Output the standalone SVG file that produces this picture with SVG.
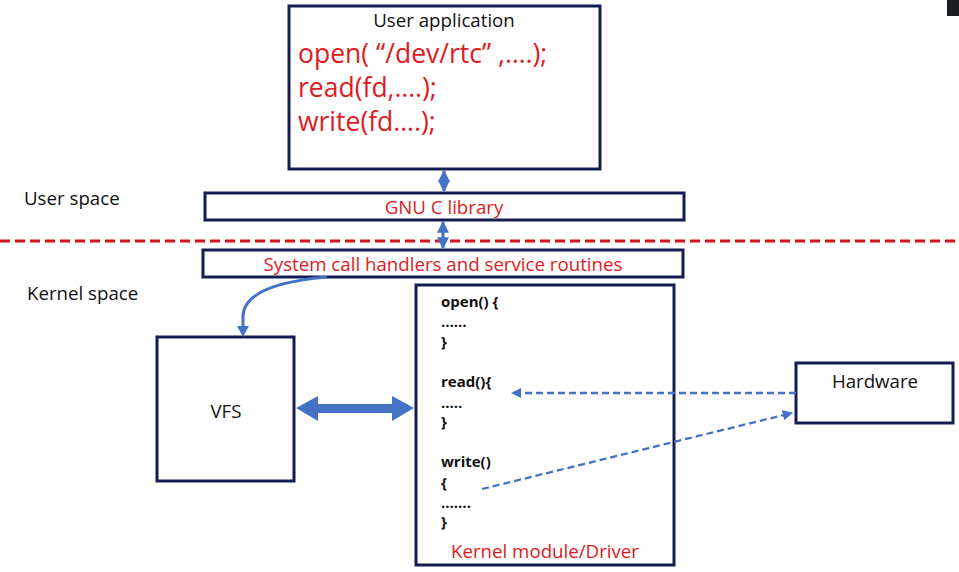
<svg xmlns="http://www.w3.org/2000/svg" width="959" height="572" viewBox="0 0 959 572">
<defs>
<style>
.box{fill:#fff;stroke:#141c52;stroke-width:3}
.t{font-family:"Open Sans","Noto Sans",sans-serif;fill:#111;font-size:18.7px}
.r{font-family:"Open Sans","Noto Sans",sans-serif;fill:#e01a22;font-size:18.7px}
.big{font-size:26.5px}
.c{font-family:"Open Sans","Noto Sans",sans-serif;font-weight:bold;font-size:15px;fill:#111}
.dash{fill:none;stroke:#4472c4;stroke-width:2.3;stroke-dasharray:7 4}
</style>
<marker id="ah" viewBox="0 0 10 10" refX="9" refY="5" markerWidth="4.5" markerHeight="4.5" orient="auto-start-reverse">
<path d="M0,0 L10,5 L0,10 z" fill="#4472c4"/>
</marker>
<marker id="ahs" viewBox="0 0 10 10" refX="9" refY="5" markerWidth="4" markerHeight="4" orient="auto-start-reverse">
<path d="M0,0 L10,5 L0,10 z" fill="#4472c4"/>
</marker>
</defs>
<rect width="959" height="572" fill="#fff"/>
<rect x="947" y="0" width="12" height="16" fill="#1a1d22"/>

<text class="t" x="24" y="205">User space</text>
<text class="t" x="27" y="300">Kernel space</text>
<line x1="0" y1="241" x2="959" y2="241" stroke="#d4141c" stroke-width="3" stroke-dasharray="10 5"/>

<g id="user-app">
<rect class="box" x="289" y="6" width="311" height="163"/>
<text class="t" x="444" y="27" text-anchor="middle">User application</text>
<text class="r big" x="298" y="63">open( “/dev/rtc” ,….);</text>
<text class="r big" x="298" y="97">read(fd,….);</text>
<text class="r big" x="298" y="131">write(fd….);</text>
</g>

<g id="glibc">
<rect class="box" x="205" y="193" width="479" height="27"/>
<text class="r" x="444" y="214" text-anchor="middle">GNU C library</text>
</g>

<g id="syscall">
<rect class="box" x="203" y="250" width="480" height="27"/>
<text class="r" x="443" y="271" text-anchor="middle">System call handlers and service routines</text>
</g>

<g id="vfs">
<rect class="box" x="157" y="337" width="137" height="144"/>
<text class="t" x="226" y="418" text-anchor="middle">VFS</text>
</g>

<g id="driver">
<rect class="box" x="416" y="285" width="258" height="280"/>
<text class="c" x="441" y="307">open() {</text>
<text class="c" x="441" y="327">……</text>
<text class="c" x="441" y="347">}</text>
<text class="c" x="441" y="387">read(){</text>
<text class="c" x="441" y="408">…..</text>
<text class="c" x="441" y="427">}</text>
<text class="c" x="441" y="467">write()</text>
<text class="c" x="441" y="488">{</text>
<text class="c" x="441" y="508">…….</text>
<text class="c" x="441" y="527">}</text>
<text class="r" x="545" y="558" text-anchor="middle">Kernel module/Driver</text>
</g>

<g id="hardware">
<rect class="box" x="796" y="363" width="157" height="60"/>
<text class="t" x="875" y="388" text-anchor="middle">Hardware</text>
</g>

<g id="connectors">
<line x1="444" y1="171" x2="444" y2="191" stroke="#4472c4" stroke-width="3" marker-start="url(#ahs)" marker-end="url(#ahs)"/>
<line x1="443" y1="222" x2="443" y2="248" stroke="#4472c4" stroke-width="3" marker-start="url(#ahs)" marker-end="url(#ahs)"/>
<path d="M327,277 C270,282 242,296 243,318 L243,328" fill="none" stroke="#4472c4" stroke-width="3"/>
<path d="M237,326 L249,326 L243,337 z" fill="#4472c4"/>
<path d="M296,408 L318,396 L318,404 L392,404 L392,396 L414,408 L392,421 L392,413 L318,413 L318,421 z" fill="#4472c4"/>
<line class="dash" x1="796" y1="393" x2="512" y2="393" marker-end="url(#ah)"/>
<line class="dash" x1="482" y1="489" x2="792" y2="413" marker-end="url(#ah)"/>
</g>
</svg>
